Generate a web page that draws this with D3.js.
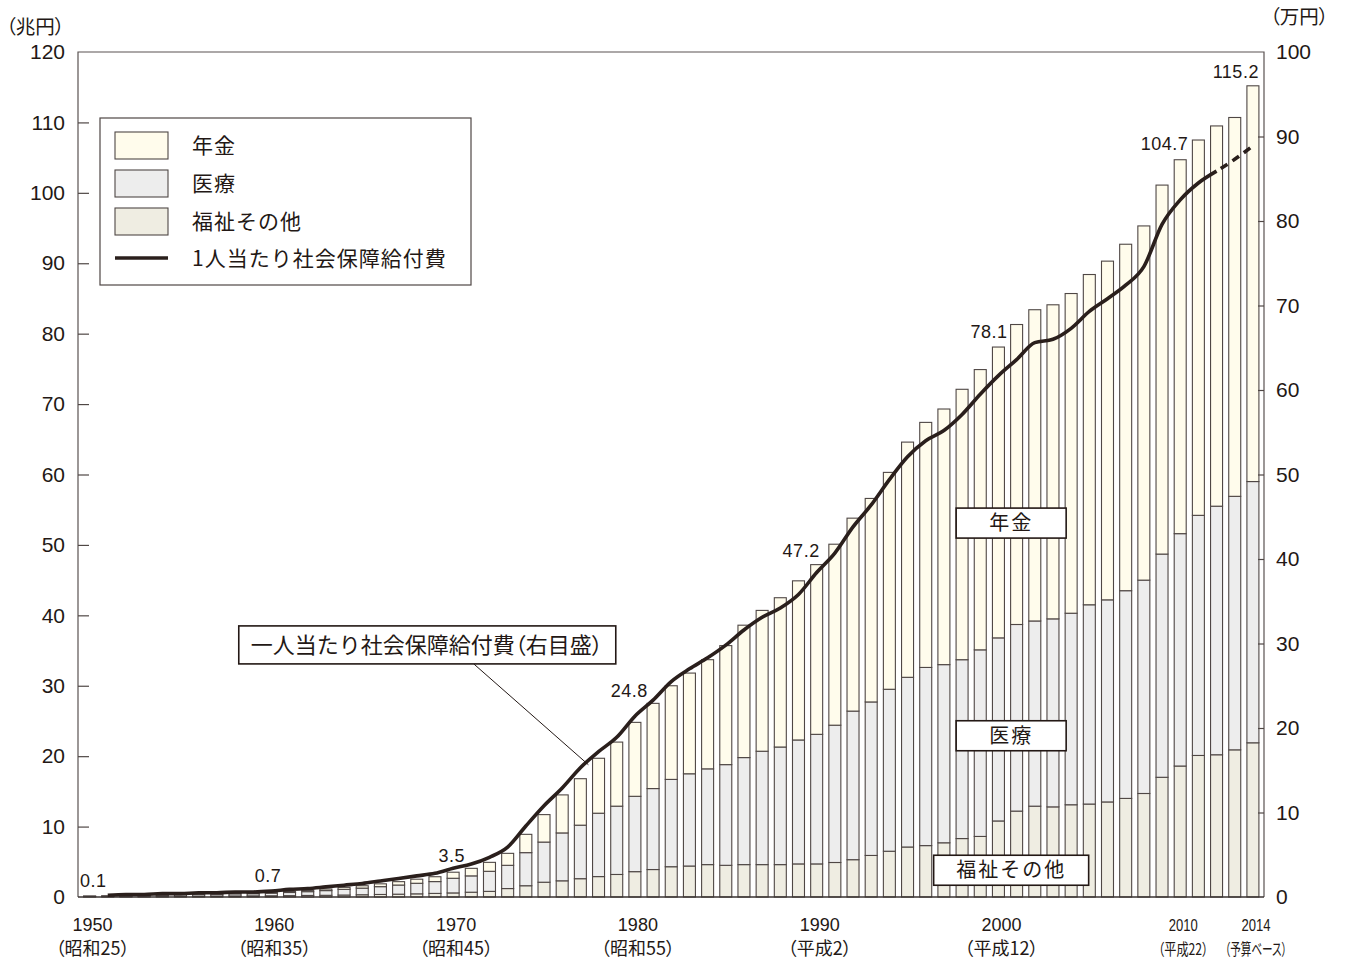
<!DOCTYPE html>
<html>
<head>
<meta charset="utf-8">
<script src="https://cdn.jsdelivr.net/npm/d3@7"></script>
<style>
  body { margin: 0; background: #fff; }
  svg text { font-family: "Liberation Sans", "Noto Sans CJK JP", sans-serif; fill: #231815; }
  .jp { font-family: "Noto Sans CJK JP", sans-serif; }
  .palt { font-feature-settings: "palt"; }
</style>
</head>
<body>
<div id="viz"></div>
<script>
// 年度 1950〜2014
const years = d3.range(1950, 2015);

// 兆円
const welfare = [
  0.06, 0.07, 0.09, 0.10, 0.12, 0.13, 0.13, 0.14, 0.15, 0.16,
  0.17, 0.19, 0.22, 0.24, 0.28, 0.32, 0.36, 0.40, 0.45, 0.51,
  0.58, 0.68, 0.80, 1.2, 1.6, 2.1, 2.3, 2.6, 2.9, 3.2,
  3.6, 3.9, 4.3, 4.4, 4.6, 4.5, 4.6, 4.6, 4.6, 4.7,
  4.7, 4.9, 5.3, 5.9, 6.5, 7.1, 7.3, 7.7, 8.3, 8.6,
  10.8, 12.2, 12.9, 12.8, 13.1, 13.2, 13.5, 14.0, 14.7, 17.0,
  18.6, 20.1, 20.2, 20.9, 21.9
];
const medical = [
  0.06, 0.08, 0.11, 0.14, 0.18, 0.22, 0.23, 0.25, 0.30, 0.31,
  0.37, 0.45, 0.54, 0.67, 0.81, 0.94, 1.11, 1.30, 1.50, 1.68,
  2.08, 2.32, 2.85, 3.3, 4.7, 5.7, 6.8, 7.6, 9.0, 9.7,
  10.7, 11.5, 12.4, 13.1, 13.6, 14.3, 15.2, 16.1, 16.7, 17.6,
  18.4, 19.5, 21.1, 21.8, 23.0, 24.1, 25.3, 25.3, 25.4, 26.5,
  26.0, 26.5, 26.3, 26.7, 27.2, 28.3, 28.7, 29.5, 30.3, 31.7,
  33.0, 34.1, 35.3, 36.0, 37.1
];
const pension = [
  0.01, 0.01, 0.02, 0.02, 0.03, 0.04, 0.04, 0.05, 0.07, 0.08,
  0.11, 0.15, 0.18, 0.22, 0.28, 0.34, 0.40, 0.48, 0.58, 0.69,
  0.86, 1.07, 1.27, 1.7, 2.6, 3.9, 5.4, 6.6, 7.8, 9.1,
  10.5, 12.1, 13.3, 14.3, 15.5, 16.9, 18.8, 20.0, 21.2, 22.6,
  24.1, 25.7, 27.4, 28.9, 30.8, 33.4, 34.8, 36.3, 38.4, 39.8,
  41.3, 42.6, 44.2, 44.6, 45.4, 46.9, 48.1, 49.2, 50.3, 52.4,
  53.1, 53.3, 54.0, 53.8, 56.2
];

// 1人当たり社会保障給付費（万円）, 1951〜2014
const perCapitaYears = d3.range(1951, 2015);
const perCapita = [
  0.2, 0.3, 0.3, 0.4, 0.4, 0.5, 0.5, 0.6, 0.6,
  0.7, 0.9, 1.0, 1.2, 1.4, 1.6, 1.9, 2.2, 2.5, 2.8,
  3.4, 3.9, 4.7, 5.9, 8.4, 10.8, 12.9, 15.3, 17.2, 18.9,
  21.4, 23.3, 25.5, 27.0, 28.3, 29.8, 31.6, 33.1, 34.2, 35.8,
  38.4, 40.7, 43.8, 46.4, 49.4, 52.1, 54.0, 55.2, 57.1, 59.5,
  61.7, 63.6, 65.6, 66.0, 67.3, 69.3, 70.8, 72.4, 74.6, 79.6,
  82.5, 84.5, 85.9, 87.3, 88.9
];
const lastActualYear = 2012;

const leftTicks = [0, 10, 20, 30, 40, 50, 60, 70, 80, 90, 100, 110, 120];
const rightTicks = [0, 10, 20, 30, 40, 50, 60, 70, 80, 90, 100];

const xLabelYears = [1950, 1960, 1970, 1980, 1990, 2000, 2010, 2014];
const xLabelEras = ["（昭和25）", "（昭和35）", "（昭和45）", "（昭和55）", "（平成2）", "（平成12）", "（平成22）", "（予算ベース）"];

const valueLabelYears = [1950, 1960, 1970, 1980, 1990, 2000, 2010, 2014];
const valueLabelTexts = ["0.1", "0.7", "3.5", "24.8", "47.2", "78.1", "104.7", "115.2"];

const seriesKeys = ["welfare", "medical", "pension"];
const seriesNames = { pension: "年金", medical: "医療", welfare: "福祉その他" };
const colors = { pension: "#fffcec", medical: "#ededed", welfare: "#efede2" };

// build table
const table = years.map((y, i) => ({
  year: y, welfare: welfare[i], medical: medical[i], pension: pension[i]
}));

const W = 1349, H = 960;
const svg = d3.select("#viz").append("svg")
  .attr("width", W).attr("height", H);

svg.append("rect").attr("width", W).attr("height", H).attr("fill", "#fff");

const x = d3.scaleBand()
  .domain(years)
  .range([80.5, 1262])
  .paddingInner(0.34)
  .paddingOuter(0.17);
const xc = yr => x(yr) + x.bandwidth() / 2;

const yL = d3.scaleLinear().domain([0, 120]).range([897, 52]);
const yR = d3.scaleLinear().domain([0, 100]).range([897, 52]);

// bars
const stacked = d3.stack().keys(seriesKeys)(table);
svg.append("g").selectAll("g")
  .data(stacked)
  .join("g")
  .attr("fill", d => colors[d.key])
  .selectAll("rect")
  .data(d => d)
  .join("rect")
  .attr("x", d => x(d.data.year))
  .attr("y", d => yL(d[1]))
  .attr("width", x.bandwidth())
  .attr("height", d => yL(d[0]) - yL(d[1]))
  .attr("stroke", "#4f4745")
  .attr("stroke-width", 1.1);

// frame
svg.append("path")
  .attr("d", `M78,897 V52 H1264 V897`)
  .attr("fill", "none")
  .attr("stroke", "#5a5352")
  .attr("stroke-width", 1.2);
svg.append("line")
  .attr("x1", 78).attr("x2", 1264).attr("y1", 897).attr("y2", 897)
  .attr("stroke", "#3a3332").attr("stroke-width", 1.4);

// axes
const leftAxis = svg.append("g")
  .attr("transform", "translate(78,0)")
  .call(d3.axisLeft(yL).tickValues(leftTicks).tickSizeInner(-11).tickSizeOuter(0).tickPadding(13));
const rightAxis = svg.append("g")
  .attr("transform", "translate(1264,0)")
  .call(d3.axisRight(yR).tickValues(rightTicks).tickSizeInner(-6).tickSizeOuter(0).tickPadding(12));
[leftAxis, rightAxis].forEach(g => {
  g.select(".domain").remove();
  g.selectAll(".tick line").attr("stroke", "#4f4745").attr("stroke-width", 1.2);
  g.selectAll(".tick text").style("font-size", "21px").attr("fill", "#231815")
    .style("font-family", "'Liberation Sans', sans-serif");
});
leftAxis.selectAll(".tick").filter(d => d === 0 || d === 120).select("line").remove();
rightAxis.selectAll(".tick").filter(d => d === 0 || d === 100).select("line").remove();

svg.append("text").attr("class", "jp palt")
  .attr("x", 6).attr("y", 34).style("font-size", "19.5px").text("（兆円）");
svg.append("text").attr("class", "jp palt")
  .attr("x", 1270).attr("y", 24).style("font-size", "19.5px").text("（万円）");

// x labels
const xg = svg.append("g");
xLabelYears.forEach((yr, i) => {
  const cx = xc(yr) + 3;
  const small = yr >= 2010;
  const t1 = xg.append("text")
    .attr("x", cx).attr("y", 931)
    .attr("text-anchor", "middle")
    .style("font-size", small ? "16px" : "18px")
    .text(yr);
  const t2 = xg.append("text").attr("class", "jp palt")
    .attr("x", cx).attr("y", 955)
    .attr("text-anchor", "middle")
    .style("font-size", small ? "16px" : "18px")
    .text(xLabelEras[i]);
  if (small) {
    t1.attr("textLength", 29).attr("lengthAdjust", "spacingAndGlyphs");
    t2.attr("textLength", yr === 2014 ? 62 : 50).attr("lengthAdjust", "spacingAndGlyphs");
  }
});

// per-capita line (right scale)
const linePts = perCapitaYears.map((yr, i) => ({ year: yr, v: perCapita[i] }));
const line = d3.line()
  .x(d => xc(d.year))
  .y(d => yR(d.v))
  .curve(d3.curveMonotoneX);

svg.append("path")
  .datum(linePts.filter(d => d.year <= lastActualYear))
  .attr("d", line)
  .attr("fill", "none")
  .attr("stroke", "#2a1f1c")
  .attr("stroke-width", 3.6)
  .attr("stroke-linejoin", "round");
svg.append("path")
  .datum(linePts.filter(d => d.year >= lastActualYear))
  .attr("d", line)
  .attr("fill", "none")
  .attr("stroke", "#2a1f1c")
  .attr("stroke-width", 3.6)
  .attr("stroke-dasharray", "8,6")
  .attr("stroke-dashoffset", -5);

// value labels above bars
const labelShift = { 1950: [17, -9], 1960: [10, -10], 1970: [12, -10], 1980: [13, -25],
  1990: [3, -8], 2000: [9, -9], 2010: [8, -10], 2014: [6, -8] };
valueLabelYears.forEach((yr, i) => {
  const row = table.find(d => d.year === yr);
  const total = row.welfare + row.medical + row.pension;
  const [dx, dy] = labelShift[yr];
  svg.append("text")
    .attr("x", xc(yr) + dx).attr("y", yL(total) + dy)
    .attr("text-anchor", "end")
    .style("font-size", "18px")
    .style("letter-spacing", "0.5px")
    .text(valueLabelTexts[i]);
});

// series label boxes inside the chart
const boxLabels = [
  { key: "pension", year: 2000.7, value: 53.1, w: 110 },
  { key: "medical", year: 2000.7, value: 22.9, w: 110 },
  { key: "welfare", year: 2000.7, value: 3.8, w: 155 }
];
boxLabels.forEach(b => {
  const cx = xc(Math.floor(b.year)) + (b.year % 1) * x.step();
  const cy = yL(b.value);
  svg.append("rect")
    .attr("x", cx - b.w / 2).attr("y", cy - 15)
    .attr("width", b.w).attr("height", 30)
    .attr("fill", "#fff").attr("stroke", "#231815").attr("stroke-width", 1.6);
  svg.append("text").attr("class", "jp")
    .attr("x", cx).attr("y", cy + 7)
    .attr("text-anchor", "middle")
    .style("font-size", "20px")
    .style("letter-spacing", "2px")
    .text(seriesNames[b.key]);
});

// annotation for the line
const annX = xc(1968) + 10, annY = yL(35.8);
const leadYear = 1977;
const leadV = perCapita[perCapitaYears.indexOf(leadYear)];
svg.append("line")
  .attr("x1", annX + 47).attr("y1", annY + 19)
  .attr("x2", xc(leadYear) + 8).attr("y2", yR(leadV) - 3)
  .attr("stroke", "#231815").attr("stroke-width", 1);
svg.append("rect")
  .attr("x", annX - 188).attr("y", annY - 19)
  .attr("width", 377).attr("height", 38)
  .attr("fill", "#fff").attr("stroke", "#231815").attr("stroke-width", 1.6);
const annText = svg.append("text").attr("class", "jp")
  .attr("x", annX).attr("y", annY + 8)
  .attr("text-anchor", "middle")
  .style("font-size", "22px");
annText.append("tspan").text("一人当たり社会保障給付費");
annText.append("tspan").attr("class", "palt").text("（右目盛）");

// legend
const legend = svg.append("g").attr("transform", "translate(100,118)");
legend.append("rect")
  .attr("width", 371).attr("height", 167)
  .attr("fill", "#fff").attr("stroke", "#4f4745").attr("stroke-width", 1.2);
const legendKeys = ["pension", "medical", "welfare"];
legendKeys.forEach((k, i) => {
  const cy = 27 + i * 38;
  legend.append("rect")
    .attr("x", 15).attr("y", cy - 13)
    .attr("width", 53).attr("height", 27)
    .attr("fill", colors[k]).attr("stroke", "#4f4745").attr("stroke-width", 1.1);
  legend.append("text").attr("class", "jp")
    .attr("x", 92).attr("y", cy + 8)
    .style("font-size", "21px").style("letter-spacing", "1px")
    .text(seriesNames[k]);
});
legend.append("line")
  .attr("x1", 15).attr("x2", 68).attr("y1", 140).attr("y2", 140)
  .attr("stroke", "#2a1f1c").attr("stroke-width", 3.6);
legend.append("text").attr("class", "jp")
  .attr("x", 92).attr("y", 148)
  .style("font-size", "21px").style("letter-spacing", "1px")
  .text("1人当たり社会保障給付費");
</script>
</body>
</html>
